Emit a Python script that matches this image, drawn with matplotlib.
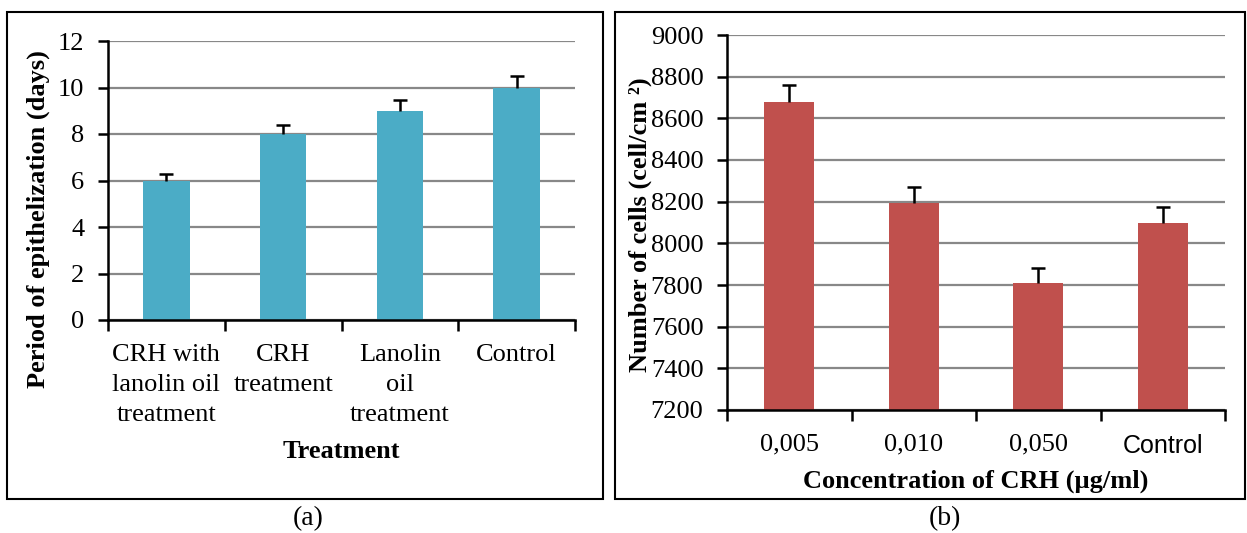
import numpy as np
import matplotlib.pyplot as plt
from matplotlib.patches import Rectangle

# Data
treatments = ['CRH with\nlanolin oil\ntreatment', 'CRH\ntreatment', 'Lanolin\noil\ntreatment', 'Control']
epith_days = [6, 8, 9, 10]
epith_err = [0.3, 0.4, 0.45, 0.5]

concentrations = ['0,005', '0,010', '0,050', 'Control']
cell_counts = [8680, 8195, 7810, 8100]
cell_err = [80, 75, 70, 75]

W, H = 1247, 533
FS = 19
plt.rcParams['font.family'] = 'Liberation Serif'

fig = plt.figure(figsize=(W / 100, H / 100), dpi=100)

def px_axes(x0, x1, y_top, y_bot):
    return fig.add_axes([x0 / W, 1 - y_bot / H, (x1 - x0) / W, (y_bot - y_top) / H])

def style_axes(ax, n, xpad):
    for s in ['top', 'right']:
        ax.spines[s].set_visible(False)
    ax.spines['left'].set_linewidth(1.8)
    ax.spines['bottom'].set_linewidth(1.8)
    ax.yaxis.grid(True, color='#888888', linewidth=1.6)
    ax.set_axisbelow(True)
    ax.set_xlim(-0.5, n - 0.5)
    ax.set_xticks(np.arange(n))
    ax.set_xticks(np.arange(n + 1) - 0.5, minor=True)
    ax.tick_params(axis='x', which='major', length=0, pad=xpad)
    ax.tick_params(axis='x', which='minor', length=8, width=1.8, direction='out')
    ax.tick_params(axis='y', length=7, width=1.8, direction='out', labelsize=FS, pad=10)

def upper_errors(ax, x, y, err):
    _, caps, _ = ax.errorbar(x, y, yerr=[np.zeros(len(x)), err], fmt='none',
                             ecolor='black', elinewidth=1.8, capsize=5, capthick=1.8, zorder=3)
    caps[0].set_visible(False)

# Outer frames
fig.patches.append(Rectangle((7 / W, 1 - 499 / H), 596 / W, 487 / H, transform=fig.transFigure,
                             fill=False, edgecolor='black', linewidth=1.5))
fig.patches.append(Rectangle((615 / W, 1 - 499 / H), 630 / W, 487 / H, transform=fig.transFigure,
                             fill=False, edgecolor='black', linewidth=1.5))

# (a) epithelization period
ax1 = px_axes(108, 575, 41, 320)
x = np.arange(len(treatments))
ax1.bar(x, epith_days, width=0.4, color='#4bacc6', zorder=2)
upper_errors(ax1, x, epith_days, epith_err)
style_axes(ax1, len(treatments), 17)
ax1.set_ylim(0, 12)
ax1.set_yticks(np.arange(0, 13, 2))
ax1.set_xticklabels(treatments, fontsize=FS, linespacing=1.47, va='top')
ax1.set_ylabel('Period of epithelization (days)', fontsize=FS, fontweight='bold')
ax1.yaxis.set_label_coords((50 - 108) / 467, (320 - 219) / 279)
ax1.set_xlabel('Treatment', fontsize=FS, fontweight='bold')
ax1.xaxis.set_label_coords(0.5, (320 - 452) / 279)
ax1.xaxis.label.set_va('center')

# (b) cell counts
ax2 = px_axes(727, 1225, 35, 410)
x = np.arange(len(concentrations))
ax2.bar(x, cell_counts, width=0.4, color='#c0504d', zorder=2)
upper_errors(ax2, x, cell_counts, cell_err)
style_axes(ax2, len(concentrations), 17)
ax2.set_ylim(7200, 9000)
ax2.set_yticks(np.arange(7200, 9001, 200))
ax2.set_xticklabels(concentrations, fontsize=FS)
ax2.get_xticklabels()[-1].set_family('Liberation Sans')
ax2.get_xticklabels()[-1].set_fontsize(FS - 1)
ax2.set_ylabel('Number of cells (cell/cm ²)', fontsize=FS, fontweight='bold')
ax2.yaxis.set_label_coords((652 - 727) / 498, (410 - 225) / 375)
ax2.set_xlabel('Concentration of CRH (µg/ml)', fontsize=FS, fontweight='bold')
ax2.xaxis.set_label_coords(0.5, (410 - 481) / 375)
ax2.xaxis.label.set_va('center')

fig.text(308 / W, 1 - 519 / H, '(a)', ha='center', va='center', fontsize=FS + 1)
fig.text(945 / W, 1 - 519 / H, '(b)', ha='center', va='center', fontsize=FS + 1)

fig.savefig('out.png', dpi=100)
